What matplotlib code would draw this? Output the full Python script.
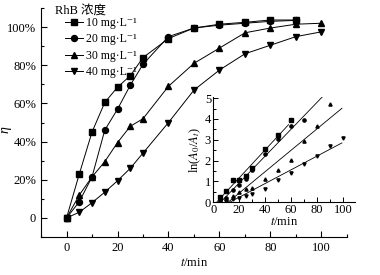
import numpy as np
import matplotlib
matplotlib.use("Agg")
import matplotlib.pyplot as plt
from matplotlib.ticker import MultipleLocator, FuncFormatter

plt.rcParams['font.family'] = ['Liberation Serif', 'DejaVu Serif', 'Noto Sans CJK SC']
plt.rcParams['mathtext.fontset'] = 'stix'
plt.rcParams['font.size'] = 9

# degradation efficiency (%) vs time (min)
t_main = [0, 5, 10, 15, 20, 25, 30, 40, 50, 60, 70, 80, 90, 100]
eta_10 = [0, 23, 45, 60.5, 68.5, 74.5, 84, 94, 99.5, 101.5, 102.5, 103.7, 103.7]
eta_20 = [0, 8.5, 21.5, 46, 57, 69.5, 80.5, 95, 99.5, 101, 102, 103, 103.5]
eta_30 = [0, 12, 21.5, 29.5, 39.5, 48, 52, 69, 81, 89, 97, 99.5, 101.5, 102]
eta_40 = [0, 3, 8, 13.5, 19.5, 26, 34, 50, 67, 77.5, 86, 90.5, 95, 97.5]

# inset: ln(A0/At) vs time
t_in_10 = [5, 10, 15, 20, 25, 30, 40, 50, 60]
ln_10 = [0.25, 0.55, 1.05, 1.05, 1.25, 1.65, 2.55, 3.25, 3.95]
t_in_20 = [5, 10, 15, 20, 25, 30, 40, 50, 60, 70]
ln_20 = [0.1, 0.2, 0.6, 0.8, 1.1, 1.55, 2.3, 3.05, 3.65, 3.95]
t_in_30 = [5, 10, 15, 20, 25, 30, 40, 50, 60, 70, 80, 90]
ln_30 = [0.1, 0.15, 0.3, 0.48, 0.62, 0.7, 1.12, 1.55, 2.03, 2.95, 3.67, 4.7]
t_in_40 = [5, 10, 15, 20, 25, 30, 40, 50, 60, 70, 80, 90, 100]
ln_40 = [0.05, 0.07, 0.15, 0.2, 0.3, 0.4, 0.65, 1.05, 1.4, 1.85, 2.2, 2.7, 3.1]

labels = ["10 mg·L⁻¹", "20 mg·L⁻¹", "30 mg·L⁻¹", "40 mg·L⁻¹"]
markers = ["s", "o", "^", "v"]
fit_range = [(3, 58), (4, 84), (9, 99), (11, 99)]

fig = plt.figure(figsize=(3.8, 2.75), dpi=100)
ax = fig.add_axes([0.108, 0.138, 0.805, 0.833])

main_y = [eta_10, eta_20, eta_30, eta_40]
for yy, mk, lab in zip(main_y, markers, labels):
    ax.plot(t_main[:len(yy)], yy, "-", color="black", lw=0.7,
            marker=mk, ms=4.3, label=lab)

ax.set_xlim(-10, 110)
ax.set_ylim(-10, 110)
ax.spines['top'].set_visible(False)
ax.spines['right'].set_visible(False)
ax.xaxis.set_minor_locator(MultipleLocator(10))
ax.yaxis.set_minor_locator(MultipleLocator(10))
ax.set_xticks([0, 20, 40, 60, 80, 100])
ax.set_yticks([0, 20, 40, 60, 80, 100])
ax.yaxis.set_major_formatter(FuncFormatter(lambda v, p: "0" if v == 0 else "%d%%" % v))
ax.tick_params(which='both', direction='in', width=0.8)
ax.tick_params(which='major', length=4)
ax.tick_params(which='minor', length=2.5)
ax.set_xlabel("$t$/min", labelpad=2)
ax.set_ylabel("η", style="italic", fontsize=10)
ax.yaxis.set_label_coords(-0.095, 0.47)

ax.text(0.046, 0.99, "RhB 浓度", transform=ax.transAxes, ha="left", va="center",
        fontsize=9)
ax.legend(loc='upper left', bbox_to_anchor=(0.078, 0.962),
          frameon=False, handlelength=1.5, handletextpad=0.25,
          labelspacing=0.38, borderpad=0, borderaxespad=0, fontsize=8.5)

# inset
axi = fig.add_axes([0.561, 0.265, 0.373, 0.382])
in_t = [t_in_10, t_in_20, t_in_30, t_in_40]
in_y = [ln_10, ln_20, ln_30, ln_40]
for tt, yy, mk, (a, b) in zip(in_t, in_y, markers, fit_range):
    axi.plot(tt, yy, linestyle="none", marker=mk, ms=2.3, color="black")
    k, c = np.polyfit(tt, yy, 1)
    xs = np.array([a, b])
    axi.plot(xs, k * xs + c, "-", color="black", lw=0.6)

axi.set_xlim(0, 109)
axi.set_ylim(0, 5.05)
axi.spines['top'].set_visible(False)
axi.spines['right'].set_visible(False)
axi.xaxis.set_major_locator(MultipleLocator(20))
axi.xaxis.set_minor_locator(MultipleLocator(10))
axi.yaxis.set_major_locator(MultipleLocator(1))
axi.yaxis.set_minor_locator(MultipleLocator(0.5))
axi.tick_params(which='both', direction='in', width=0.7, pad=1.5)
axi.tick_params(which='major', length=3.5)
axi.tick_params(which='minor', length=2)
axi.set_xlabel("$t$/min", labelpad=0)
axi.set_ylabel("ln($A_0$/$A_t$)", labelpad=1)
axi.patch.set_alpha(0)

fig.savefig("out.png", dpi=100)
